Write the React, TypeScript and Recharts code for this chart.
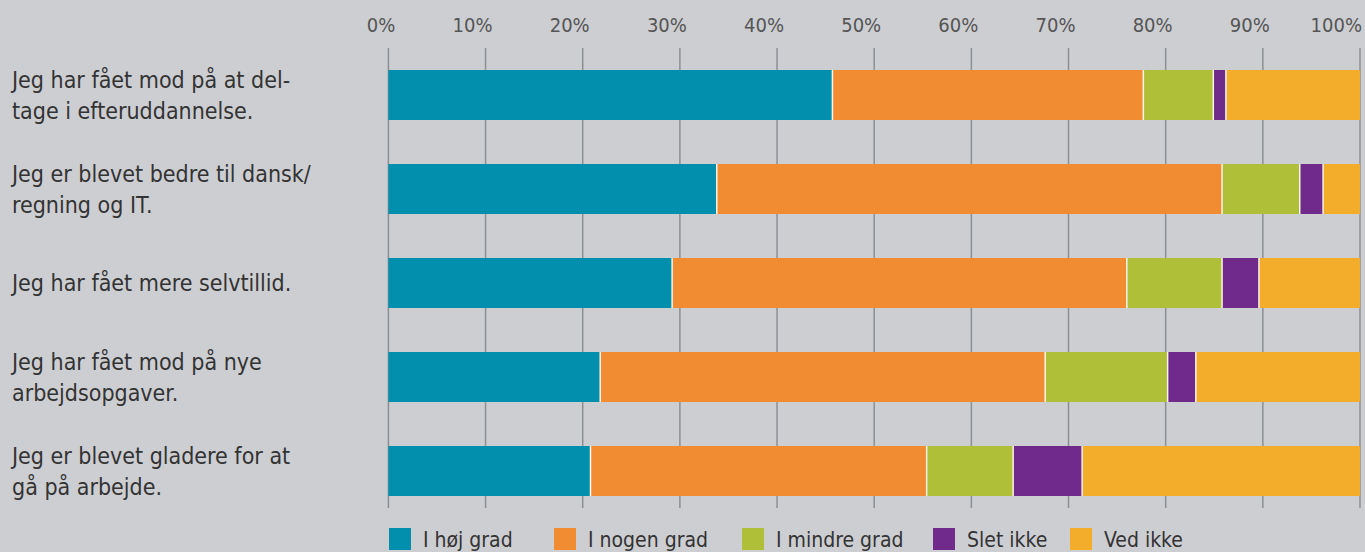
import React from "react";
import { BarChart, Bar, XAxis, YAxis, CartesianGrid } from "recharts";

if (typeof document !== "undefined") {
  document.body.style.margin = "0";
  document.body.style.background = "#cdced2";
}

const categories = [
  "Jeg har fået mod på at del-\ntage i efteruddannelse.",
  "Jeg er blevet bedre til dansk/\nregning og IT.",
  "Jeg har fået mere selvtillid.",
  "Jeg har fået mod på nye\narbejdsopgaver.",
  "Jeg er blevet gladere for at\ngå på arbejde.",
];

const hoejGrad = [45.7, 33.8, 29.2, 21.8, 20.8];
const nogenGrad = [32.0, 52.0, 46.8, 45.8, 34.6];
const mindreGrad = [7.2, 8.0, 9.8, 12.6, 8.9];
const sletIkke = [1.3, 2.4, 3.8, 2.9, 7.1];
const vedIkke = [13.8, 3.8, 10.4, 16.9, 28.6];

const xTicks = [0, 10, 20, 30, 40, 50, 60, 70, 80, 90, 100];

const series = [
  { key: "hoej", name: "I høj grad", color: "#028fae", values: hoejGrad },
  { key: "nogen", name: "I nogen grad", color: "#f28c33", values: nogenGrad },
  { key: "mindre", name: "I mindre grad", color: "#afbf37", values: mindreGrad },
  { key: "slet", name: "Slet ikke", color: "#6f2a8b", values: sletIkke },
  { key: "ved", name: "Ved ikke", color: "#f3ad2a", values: vedIkke },
];

const data = categories.map((name, i) => {
  const row: Record<string, string | number> = { name };
  series.forEach((s) => (row[s.key] = s.values[i]));
  return row;
});

const FONT = "'DejaVu Sans Condensed', 'DejaVu Sans', sans-serif";
const legendLeft = [389, 554, 742, 933, 1070];

function XTick(props: any) {
  const { x, payload } = props;
  return (
    <text x={Math.min(x + 7, 1362)} y={32} textAnchor="end" fill="#555" fontSize={20} fontFamily={FONT}>
      {payload.value}%
    </text>
  );
}

function YTick(props: any) {
  const { y, payload } = props;
  const lines = String(payload.value).split("\n");
  const first = y + 8 - ((lines.length - 1) * 31) / 2;
  return (
    <text x={12} y={first} textAnchor="start" fill="#333" fontSize={23} fontFamily={FONT}>
      {lines.map((l, i) => (
        <tspan key={i} x={12} y={first + i * 31}>
          {l}
        </tspan>
      ))}
    </text>
  );
}

function GridLine(p: any) {
  return (
    <line key={`v-${p.index}`} x1={p.x1} x2={p.x2} y1={p.y1} y2={p.y2 - 10} stroke="#8b9094" strokeWidth={1.5} />
  );
}

function SegShape(props: any) {
  const { x, y, width, height, fill } = props;
  return (
    <g>
      <rect x={x} y={y} width={width} height={height} fill={fill} />
      <line x1={x} x2={x} y1={y} y2={y + height} stroke="#f8f4ea" strokeWidth={1.5} />
    </g>
  );
}

export default function App() {
  return (
    <div style={{ position: "relative", width: 1365, height: 552, background: "#cdced2", overflow: "hidden" }}>
      <BarChart
        width={1365}
        height={552}
        data={data}
        layout="vertical"
        margin={{ top: 0, right: 5, bottom: 34, left: 0 }}
        barCategoryGap={0}
      >
        <CartesianGrid horizontal={false} vertical={GridLine} />
        <XAxis
          type="number"
          domain={[0, 100]}
          ticks={xTicks}
          orientation="top"
          height={48}
          axisLine={false}
          tickLine={false}
          tick={<XTick />}
          interval={0}
        />
        <YAxis
          type="category"
          dataKey="name"
          width={388.4}
          axisLine={false}
          tickLine={false}
          tick={<YTick />}
          interval={0}
        />
        {series.map((s, i) => (
          <Bar
            key={s.key}
            dataKey={s.key}
            name={s.name}
            stackId="a"
            fill={s.color}
            barSize={50}
            isAnimationActive={false}
            shape={i > 0 ? SegShape : undefined}
          />
        ))}
      </BarChart>
      {series.map((s, i) => (
        <div
          key={s.key}
          style={{
            position: "absolute",
            left: legendLeft[i],
            top: 528,
            display: "flex",
            alignItems: "flex-start",
            fontFamily: FONT,
            fontSize: 21,
            color: "#333",
            lineHeight: "24px",
          }}
        >
          <span style={{ display: "inline-block", width: 22, height: 22, background: s.color, marginRight: 12 }} />
          <span>{s.name}</span>
        </div>
      ))}
    </div>
  );
}
